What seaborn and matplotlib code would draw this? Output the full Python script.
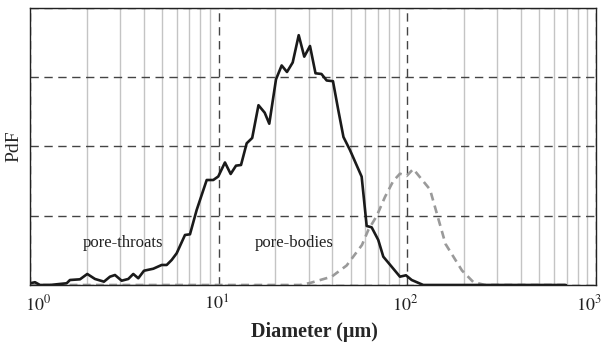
#Pore size distribution: pore-throats vs pore-bodies

import pandas as pd
import matplotlib
matplotlib.use("Agg")
import matplotlib.pyplot as plt
import matplotlib.transforms as mtransforms
from matplotlib.ticker import LogLocator, NullFormatter
import seaborn as sns

# pore-throat diameters (um) and PdF
throat_d = [1.0, 1.063, 1.13, 1.276, 1.442, 1.565, 1.629, 1.841, 2.012, 2.211,
            2.467, 2.655, 2.822, 3.062, 3.319, 3.528, 3.75, 4.02, 4.504, 4.989,
            5.304, 5.636, 5.991, 6.631, 7.047, 7.647, 8.644, 9.366, 9.954, 10.80,
            11.58, 12.36, 13.14, 14.08, 15.06, 16.26, 17.54, 18.55, 20.14, 21.58,
            23.02, 24.69, 26.57, 28.43, 30.49, 32.61, 35.08, 37.37, 40.36, 43.05,
            45.87, 49.66, 57.28, 60.90, 64.71, 70.15, 74.59, 82.61, 91.41, 98.35,
            105.5, 121.5, 222.8, 693.0]
throat_pdf = [0.025, 0.04, 0.0, 0.0, 0.015, 0.025, 0.072, 0.082, 0.159, 0.087,
              0.048, 0.12, 0.144, 0.062, 0.087, 0.159, 0.097, 0.206, 0.235, 0.289,
              0.289, 0.361, 0.458, 0.722, 0.732, 1.083, 1.516, 1.516, 1.567, 1.769,
              1.603, 1.723, 1.733, 2.046, 2.123, 2.596, 2.488, 2.329, 2.97, 3.17,
              3.076, 3.213, 3.607, 3.297, 3.451, 3.057, 3.047, 2.953, 2.943, 2.527,
              2.137, 1.949, 1.564, 0.852, 0.833, 0.65, 0.409, 0.264, 0.12, 0.14,
              0.072, 0.0, 0.0, 0.0]

# pore-body diameters (um) and PdF
body_d = [1.0, 26.98, 30.49, 39.72, 47.71, 57.51, 62.10, 68.81, 76.13, 84.24,
          91.41, 99.22, 107.5, 131.9, 159.4, 194.9, 223.7, 258.0, 699.3]
body_pdf = [0.0, 0.0, 0.029, 0.12, 0.282, 0.578, 0.794, 0.996, 1.271, 1.502,
            1.607, 1.574, 1.675, 1.379, 0.592, 0.209, 0.043, 0.0, 0.0]

labels = ["pore-throats", "pore-bodies"]
label_pos = [(3.11, 0.61), (25.1, 0.61)]

xticks = [1, 10, 100, 1000]
xtick_labels = [r'$10^{0}$', r'$10^{1}$', r'$10^{2}$', r'$10^{3}$']
xtick_nudge = [8, -2, -2, -7]  # px, the end labels sit inside the frame

sns.set_style("white")
plt.rcParams['font.family'] = ['Liberation Serif', 'DejaVu Serif']
plt.rcParams['mathtext.fontset'] = 'stix'

throats = pd.DataFrame({'d': throat_d, 'pdf': throat_pdf})
bodies = pd.DataFrame({'d': body_d, 'pdf': body_pdf})

fig = plt.figure(figsize=(6.02, 3.47), dpi=100)
ax = fig.add_axes([0.0498, 0.1787, 0.9402, 0.7983])

ax.set_xscale('log')
ax.set_xlim(1, 1000)
ax.set_ylim(0, 4)

# grid
ax.set_xticks(xticks)
ax.xaxis.set_minor_locator(LogLocator(base=10, subs=range(2, 10), numticks=20))
ax.xaxis.set_major_formatter(NullFormatter())
ax.xaxis.set_minor_formatter(NullFormatter())
ax.set_yticks([0, 1, 2, 3, 4])
ax.set_yticklabels([])
ax.grid(which='minor', axis='x', color='#c4c4c4', lw=1.0, ls='-')
ax.grid(which='major', axis='x', color='#444444', lw=1.0, ls=(0, (6, 4)))
ax.grid(which='major', axis='y', color='#444444', lw=1.0, ls=(0, (6, 4)))
ax.set_axisbelow(True)

sns.lineplot(data=bodies, x='d', y='pdf', ax=ax, color='#9a9a9a', lw=1.9,
             linestyle=(0, (3, 2)))
sns.lineplot(data=throats, x='d', y='pdf', ax=ax, color='#1a1a1a', lw=1.9)

for lab, (xp, yp) in zip(labels, label_pos):
    ax.text(xp, yp, lab, ha='center', va='center', fontsize=12, color='#222222')

# tick labels
xform = ax.get_xaxis_transform()
for xv, lab, dx in zip(xticks, xtick_labels, xtick_nudge):
    off = mtransforms.ScaledTranslation(dx / 100, 0, fig.dpi_scale_trans)
    ax.text(xv, -0.035, lab, transform=xform + off, ha='center', va='top',
            fontsize=13, color='#222222')

ax.tick_params(axis='both', which='both', length=0)
for s in ax.spines.values():
    s.set_color('#222222')
    s.set_linewidth(1.0)

ax.set_xlabel('Diameter (μm)', fontsize=14.5, fontweight='bold')
ax.xaxis.set_label_coords(0.503, -0.132)
ax.set_ylabel('PdF', fontsize=14)
ax.yaxis.set_label_coords(-0.014, 0.5)

fig.savefig('out.png', dpi=100)
